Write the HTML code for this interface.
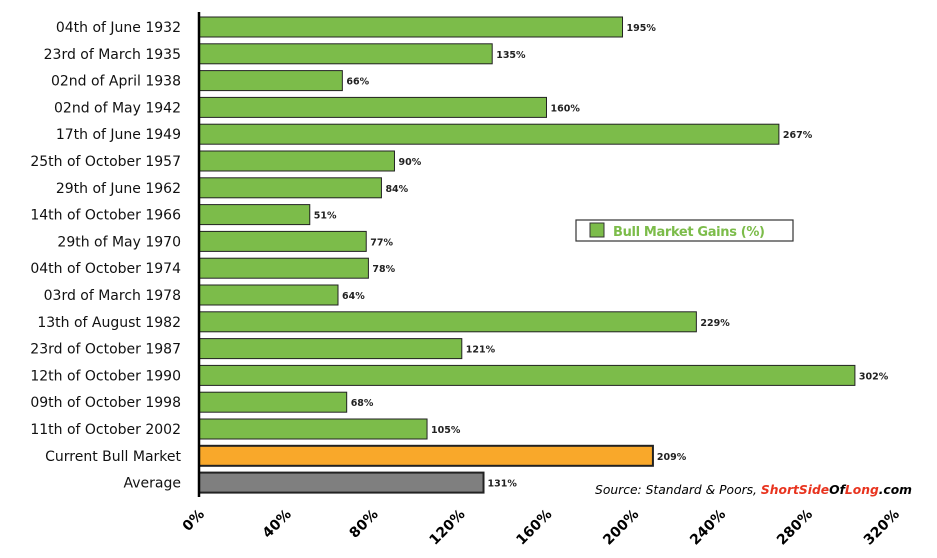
<!DOCTYPE html>
<html><head><meta charset="utf-8"><style>
html,body{margin:0;padding:0;background:#fff;}
svg{display:block;font-family:"DejaVu Sans","Liberation Sans",sans-serif;}
</style></head><body>
<svg id="chart" width="937" height="558">
<g id="bars"></g>
<line x1="199" y1="12" x2="199" y2="497" stroke="#000" stroke-width="2.5"/>
<g id="ylabels"></g>
<g id="xlabels"></g>
<g>
<rect x="576" y="220" width="217" height="21" fill="#fff" stroke="#333" stroke-width="1.2"/>
<rect x="590" y="223" width="14" height="14" fill="#7cbc4a" stroke="#333" stroke-width="1"/>
<text x="613" y="236" font-size="13" font-weight="bold" fill="#7cbc4a" textLength="152">Bull Market Gains (%)</text>
</g>
<text x="912" y="494" text-anchor="end" font-size="12.3" font-style="italic" fill="#000">Source: Standard &amp; Poors, <tspan fill="#e8331e" font-weight="bold">ShortSide</tspan><tspan font-weight="bold">Of</tspan><tspan fill="#e8331e" font-weight="bold">Long</tspan><tspan font-weight="bold">.com</tspan></text>
</svg>
<script>
const categories=["04th of June 1932","23rd of March 1935","02nd of April 1938","02nd of May 1942","17th of June 1949","25th of October 1957","29th of June 1962","14th of October 1966","29th of May 1970","04th of October 1974","03rd of March 1978","13th of August 1982","23rd of October 1987","12th of October 1990","09th of October 1998","11th of October 2002","Current Bull Market","Average"];
const gains=[195,135,66,160,267,90,84,51,77,78,64,229,121,302,68,105,209,131];
const xTicks=[0,40,80,120,160,200,240,280,320];
const NS="http://www.w3.org/2000/svg";
const x=v=>199+v*(695/320);
const yc=i=>27+i*26.8;
const bars=document.getElementById('bars'),yl=document.getElementById('ylabels'),xl=document.getElementById('xlabels');
categories.forEach((c,i)=>{
  const r=document.createElementNS(NS,'rect');
  
  
  r.setAttribute('x',x(0));r.setAttribute('y',yc(i)-10);
  r.setAttribute('width',x(gains[i])-x(0));r.setAttribute('height',20);
  r.setAttribute('fill',i===16?'#f9a82a':i===17?'#7f7f7f':'#7cbc4a');
  r.setAttribute('stroke','#222');r.setAttribute('stroke-width',i>=16?2:1);
  bars.appendChild(r);
  const t=document.createElementNS(NS,'text');
  
  
  t.setAttribute('x',x(gains[i])+4);t.setAttribute('y',yc(i)+4);
  t.setAttribute('font-size','9.5');t.setAttribute('font-weight','bold');t.setAttribute('fill','#222');
  t.textContent=gains[i]+'%';bars.appendChild(t);
  const l=document.createElementNS(NS,'text');
  
  
  l.setAttribute('x',181);l.setAttribute('y',yc(i)+5);
  l.setAttribute('text-anchor','end');l.setAttribute('font-size','14');l.setAttribute('fill','#111');
  l.textContent=c;yl.appendChild(l);
});
xTicks.forEach(v=>{
  const t=document.createElementNS(NS,'text');
  
  
  const px=x(v)+6,py=515;
  t.setAttribute('x',px);t.setAttribute('y',py);
  t.setAttribute('text-anchor','end');t.setAttribute('font-size','14');t.setAttribute('font-weight','bold');
  t.setAttribute('transform','rotate(-45 '+px+' '+py+')');
  t.textContent=v+'%';xl.appendChild(t);
});
</script>
</body></html>
